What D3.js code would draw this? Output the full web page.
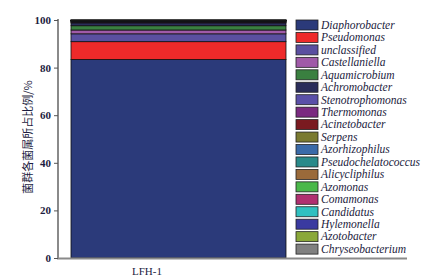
<!DOCTYPE html>
<html>
<head>
<meta charset="utf-8">
<script src="https://cdn.jsdelivr.net/npm/d3@7.9.0/dist/d3.min.js"></script>
<style>
  body { margin: 0; background: #fff; }
  svg { display: block; }
</style>
</head>
<body>
<svg id="chart" width="423" height="280"></svg>
<script>
const sample = 'LFH-1';

const genera = [
  'Diaphorobacter', 'Pseudomonas', 'unclassified', 'Castellaniella', 'Aquamicrobium',
  'Achromobacter', 'Stenotrophomonas', 'Thermomonas', 'Acinetobacter', 'Serpens',
  'Azorhizophilus', 'Pseudochelatococcus', 'Alicycliphilus', 'Azomonas', 'Comamonas',
  'Candidatus', 'Hylemonella', 'Azotobacter', 'Chryseobacterium'
];

const percents = [
  83.4, 7.5, 3.3, 1.6, 1.8,
  1.2, 0.25, 0.2, 0.15, 0.12,
  0.1, 0.08, 0.06, 0.05, 0.05,
  0.04, 0.04, 0.03, 0.03
];

const palette = [
  '#2b3a7a', '#ee2a2a', '#5a4fa0', '#a05aa8', '#3a8040',
  '#2a2d5a', '#5a50a8', '#7a2a80', '#7a1a20', '#7a7a30',
  '#3a6aa8', '#2a8a8a', '#9a6a3a', '#4ab84a', '#b03070',
  '#30c0c0', '#3a3aa0', '#8aa83a', '#808080'
];

const yTicks = [0, 20, 40, 60, 80, 100];

const svg = d3.select('#chart');
const textColor = '#1c1c40';

const y = d3.scaleLinear().domain([0, 100]).range([258, 20]);
const x = d3.scaleBand().domain([sample]).range([71, 286]).padding(0);
const color = d3.scaleOrdinal().domain(genera).range(palette);

// stacked segments
let acc = 0;
const segments = genera.map((g, i) => {
  const s = { genus: g, y0: acc, y1: acc + percents[i] };
  acc += percents[i];
  return s;
});

svg.append('g')
  .selectAll('rect')
  .data(segments)
  .join('rect')
  .attr('x', x(sample))
  .attr('width', x.bandwidth())
  .attr('y', (d) => y(Math.min(d.y1, 100)))
  .attr('height', (d) => y(d.y0) - y(Math.min(d.y1, 100)))
  .attr('fill', (d) => color(d.genus))
  .attr('stroke', '#111')
  .attr('stroke-width', 0.8);

// axes
svg.append('line')
  .attr('x1', 58).attr('x2', 58)
  .attr('y1', y(100) - 1).attr('y2', y(0) + 1)
  .attr('stroke', '#8a8a8a').attr('stroke-width', 2);

svg.append('line')
  .attr('x1', 57).attr('x2', 407)
  .attr('y1', y(0) + 0.5).attr('y2', y(0) + 0.5)
  .attr('stroke', '#8a8a8a').attr('stroke-width', 2);

const yAxis = svg.append('g')
  .attr('transform', 'translate(58,0)')
  .call(d3.axisLeft(y).tickValues(yTicks).tickSize(4).tickPadding(3));

yAxis.select('.domain').remove();
yAxis.selectAll('.tick line').attr('stroke', '#555');
yAxis.selectAll('.tick text')
  .attr('fill', textColor)
  .attr('font-family', '"Liberation Serif", serif')
  .attr('font-size', 11)
  .attr('font-weight', 'bold');

// x label
svg.append('text')
  .attr('x', 147)
  .attr('y', 275)
  .attr('text-anchor', 'middle')
  .attr('fill', textColor)
  .attr('font-family', '"Liberation Serif", serif')
  .attr('font-size', 11)
  .text(sample);

// y label
svg.append('text')
  .attr('transform', 'translate(32,137) rotate(-90)')
  .attr('text-anchor', 'middle')
  .attr('fill', textColor)
  .attr('font-family', '"Noto Sans CJK SC", sans-serif')
  .attr('font-size', 11)
  .text('菌群各菌属所占比例/%');

// legend
const legend = svg.append('g')
  .selectAll('g')
  .data(genera)
  .join('g')
  .attr('transform', (d, i) => `translate(296,${20 + i * 12.45})`);

legend.append('rect')
  .attr('width', 22)
  .attr('height', 10)
  .attr('fill', (d) => color(d))
  .attr('stroke', '#222')
  .attr('stroke-width', 0.8);

legend.append('text')
  .attr('x', 25)
  .attr('y', 8.8)
  .attr('fill', textColor)
  .attr('font-family', '"Liberation Serif", serif')
  .attr('font-style', 'italic')
  .attr('font-size', 11.5)
  .text((d) => d);
</script>
</body>
</html>
